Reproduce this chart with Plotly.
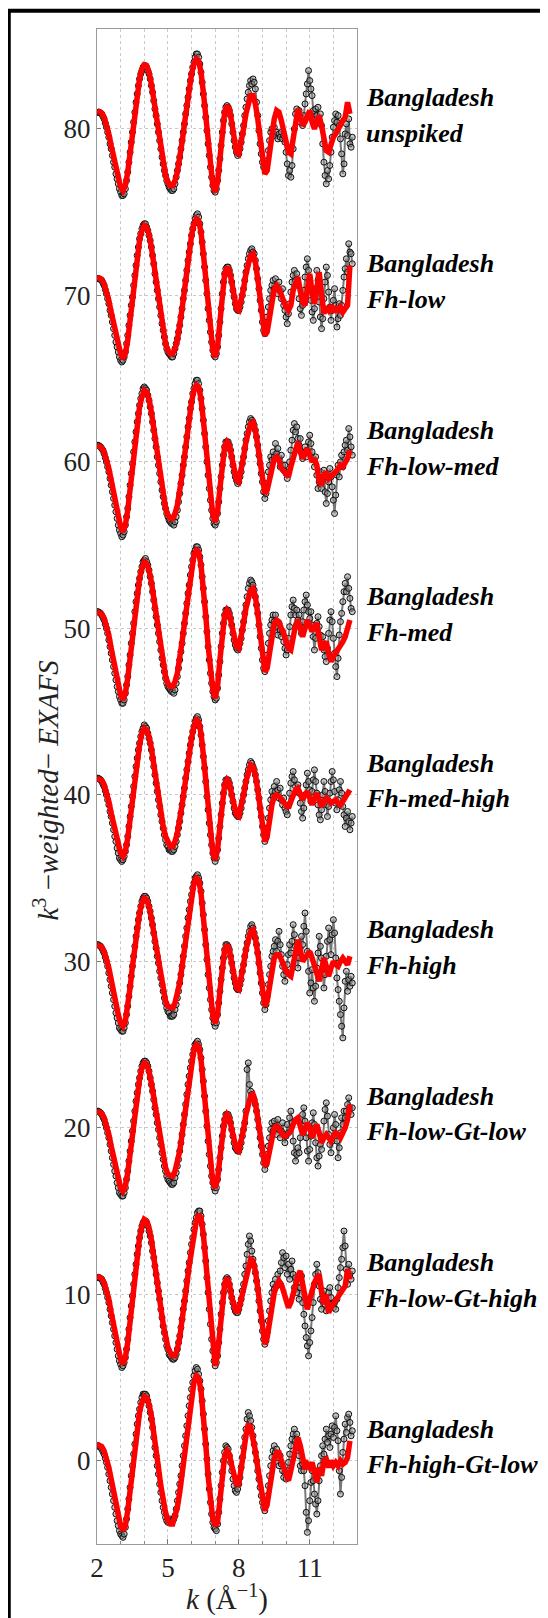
import plotly.graph_objects as go

# ---------------- data (values relative to each spectrum's vertical offset) ----------------
OFFSETS = [80, 70, 60, 50, 40, 30, 20, 10, 0]
LINE1 = "Bangladesh"
LINE2 = ["unspiked", "Fh-low", "Fh-low-med", "Fh-med", "Fh-med-high", "Fh-high",
         "Fh-low-Gt-low", "Fh-low-Gt-high", "Fh-high-Gt-low"]

K_START = 2.0
DATA_STEP = 0.05   # measured points
FIT_STEP = 0.1     # fit curve samples

X_TICKS = [2, 5, 8, 11]
X_MINOR = [3, 4, 6, 7, 9, 10, 12]
Y_TICKS = [0, 10, 20, 30, 40, 50, 60, 70, 80]

fit_unspiked = [1.1, 1.05, 0.95, 0.7, 0.3, -0.3, -1.0, -1.7, -2.4, -3.0, -3.5, -3.7,
                -3.4, -2.6, -1.4, -0.2, 1.0, 2.1, 3.0, 3.6, 3.85, 3.8,
                3.4, 2.7, 1.8, 0.8, -0.2, -1.2, -2.1, -2.8, -3.2, -3.4, -3.4,
                -3.1, -2.6, -1.8, -0.8, 0.3, 1.4, 2.4, 3.3, 3.9, 4.2, 4.1,
                3.4, 2.2, 0.7, -0.9, -2.3, -3.4, -3.8,
                -3.2, -1.8, -0.2, 1.0, 1.4,
                1.2, 0.4, -0.6, -1.4, -1.5,
                -0.9, 0.0, 0.9, 1.6, 2.0, 2.0,
                1.5, 0.6, -0.6, -1.8, -2.7,
                -2.5, -1.5, -0.3, 0.6, 1.1,
                1.0, 0.5, -0.2, -0.9, -1.4, -1.5, -0.6, 0.4, 1.2, 0.8,
                0.2, 0.4, 0.8, 1.1, 0.4, 0.0, 0.5, 0.8, 0.2, -0.6,
                -1.3, -1.4, -0.9, -0.5, -0.3, 0.0, 0.2, 0.5, 0.7, 1.6, 0.9]

fit_fh_low = [1.1, 1.05, 0.95, 0.7, 0.3, -0.3, -1.0, -1.7, -2.4, -3.0, -3.5, -3.8,
              -3.5, -2.7, -1.5, -0.2, 1.1, 2.3, 3.3, 3.9, 4.2, 4.1,
              3.7, 2.9, 1.9, 0.8, -0.2, -1.2, -2.1, -2.9, -3.3, -3.5, -3.5,
              -3.2, -2.7, -1.9, -0.8, 0.3, 1.5, 2.6, 3.6, 4.3, 4.6, 4.5,
              3.8, 2.5, 0.9, -0.8, -2.2, -3.3, -3.7,
              -3.1, -1.6, 0.1, 1.3, 1.7,
              1.5, 0.8, -0.1, -0.8, -0.9,
              -0.4, 0.4, 1.3, 2.0, 2.4, 2.5,
              2.0, 1.0, -0.3, -1.5, -2.4,
              -2.2, -1.3, -0.3, 0.4, 0.6,
              0.4, 0.0, -0.4, -0.7, -0.9, -0.6, 0.3, 0.8, 1.1, 0.3,
              -0.4, -0.6, 0.5, 1.3, 0.2, -0.5, 0.4, 1.4, 0.1, -1.1,
              -0.7, -0.9, -0.6, -1.0, -0.8, -0.9, -0.7, -1.0, -0.8, -0.6, 1.8]

fit_fh_low_med = [1.0, 0.95, 0.85, 0.6, 0.2, -0.4, -1.1, -1.9, -2.7, -3.4, -3.9, -4.2,
                  -3.8, -2.9, -1.6, -0.2, 1.1, 2.3, 3.3, 3.9, 4.3, 4.2,
                  3.8, 3.0, 2.0, 0.9, -0.2, -1.2, -2.1, -2.8, -3.2, -3.4, -3.4,
                  -3.1, -2.6, -1.8, -0.8, 0.3, 1.5, 2.6, 3.6, 4.3, 4.6, 4.5,
                  3.8, 2.5, 0.9, -0.8, -2.2, -3.2, -3.6,
                  -3.0, -1.6, -0.2, 0.9, 1.2,
                  1.0, 0.3, -0.6, -1.1, -1.2,
                  -0.6, 0.3, 1.2, 1.9, 2.3, 2.4,
                  1.9, 1.0, -0.1, -1.1, -1.9,
                  -1.7, -1.0, -0.2, 0.2, 0.3,
                  0.1, -0.4, -0.6, -0.8, -0.9, -0.3, 0.3, 0.8, 1.2, 0.6,
                  0.2, 0.5, 0.8, 0.4, 0.0, 0.2, -0.2, -1.2, -1.4, -0.8,
                  -0.6, -1.0, -0.9, -0.7, -0.6, -0.4, -0.2, -0.3, 0.0, 0.2, 0.7]

fit_fh_med = [1.0, 0.95, 0.85, 0.6, 0.2, -0.4, -1.2, -2.0, -2.8, -3.5, -4.0, -4.3,
              -3.9, -3.0, -1.7, -0.3, 1.0, 2.1, 3.0, 3.6, 4.0, 3.9,
              3.5, 2.8, 1.8, 0.8, -0.2, -1.2, -2.1, -2.9, -3.3, -3.5, -3.5,
              -3.2, -2.7, -1.9, -0.8, 0.3, 1.5, 2.6, 3.6, 4.4, 4.7, 4.6,
              3.8, 2.5, 0.8, -1.0, -2.6, -3.7, -4.2,
              -3.5, -1.9, -0.3, 0.8, 1.1,
              0.9, 0.2, -0.7, -1.1, -1.2,
              -0.6, 0.3, 1.2, 1.9, 2.3, 2.4,
              1.9, 0.9, -0.4, -1.7, -2.6,
              -2.4, -1.5, -0.4, 0.3, 0.5,
              0.4, 0.0, -0.3, -0.8, -1.2, -1.3, -0.4, 0.2, 0.5, 0.0,
              -0.5, 0.0, 0.5, 0.2, -0.2, 0.1, 0.3, -0.5, -1.3, -1.0,
              -0.8, -1.5, -2.0, -1.7, -1.5, -1.2, -1.0, -0.8, -0.5, 0.2, 0.5]

fit_fh_med_high = [1.0, 0.95, 0.85, 0.6, 0.2, -0.4, -1.1, -1.8, -2.5, -3.1, -3.5, -3.7,
                   -3.4, -2.6, -1.4, -0.2, 1.0, 2.1, 3.0, 3.7, 4.0, 3.9,
                   3.5, 2.8, 1.8, 0.8, -0.2, -1.1, -1.9, -2.5, -2.9, -3.1, -3.1,
                   -2.8, -2.3, -1.6, -0.6, 0.4, 1.5, 2.5, 3.4, 4.1, 4.5, 4.4,
                   3.7, 2.4, 0.8, -0.9, -2.4, -3.5, -3.9,
                   -3.3, -1.9, -0.5, 0.6, 0.9,
                   0.7, 0.0, -0.8, -1.2, -1.3,
                   -0.8, 0.0, 0.8, 1.4, 1.8, 1.7,
                   1.2, 0.3, -0.8, -1.9, -2.8,
                   -2.5, -1.5, -0.6, -0.1, 0.0,
                   -0.1, -0.3, -0.4, -0.6, -0.8, -0.4, 0.0, 0.3, 0.4, 0.1,
                   -0.3, 0.0, 0.2, -0.2, -0.6, -0.2, 0.1, -0.3, -0.7, -0.4,
                   -0.2, -0.3, -0.5, -0.4, -0.3, -0.5, -0.6, -0.4, -0.2, 0.1, 0.3]

fit_fh_high = [1.0, 0.95, 0.85, 0.6, 0.2, -0.4, -1.1, -1.9, -2.6, -3.2, -3.7, -3.9,
               -3.6, -2.8, -1.6, -0.3, 0.9, 2.0, 2.9, 3.5, 3.8, 3.7,
               3.3, 2.6, 1.7, 0.8, -0.1, -1.0, -1.8, -2.4, -2.7, -2.8, -2.8,
               -2.5, -2.0, -1.3, -0.3, 0.8, 2.0, 3.1, 4.0, 4.7, 5.0, 4.9,
               4.1, 2.7, 1.0, -0.8, -2.3, -3.3, -3.7,
               -3.2, -1.8, -0.4, 0.7, 1.0,
               0.7, -0.1, -1.0, -1.6, -1.7,
               -1.1, -0.2, 0.7, 1.4, 1.8, 1.9,
               1.4, 0.5, -0.7, -1.8, -2.7,
               -2.4, -1.4, -0.4, 0.2, 0.4,
               0.4, 0.1, -0.3, -0.6, -0.8, -0.9, -0.2, 0.6, 1.3, 0.7,
               0.0, 0.2, 0.4, 0.6, 0.2, -0.2, -0.7, -1.2, -0.5, 0.2,
               -0.3, -0.9, -0.4, 0.0, -0.2, -0.3, 0.0, 0.2, 0.0, -0.2, 0.3]

fit_fh_low_gt_low = [1.0, 0.95, 0.85, 0.6, 0.2, -0.4, -1.1, -1.8, -2.5, -3.1, -3.6, -3.8,
                     -3.5, -2.7, -1.5, -0.3, 0.9, 2.0, 2.9, 3.6, 3.9, 3.8,
                     3.4, 2.7, 1.8, 0.8, -0.1, -1.0, -1.8, -2.4, -2.8, -2.9, -2.9,
                     -2.6, -2.1, -1.4, -0.4, 0.7, 1.9, 3.0, 4.0, 4.7, 5.0, 4.9,
                     4.1, 2.7, 1.0, -0.8, -2.3, -3.3, -3.6,
                     -3.1, -1.8, -0.5, 0.5, 0.8,
                     0.6, -0.1, -0.9, -1.3, -1.4,
                     -0.9, -0.1, 0.8, 1.5, 1.9, 2.0,
                     1.5, 0.6, -0.5, -1.5, -2.3,
                     -2.1, -1.3, -0.5, 0.0, 0.1,
                     0.0, -0.3, -0.5, -0.5, -0.4, -0.2, 0.2, 0.5, 0.6, 0.1,
                     -0.4, -0.1, 0.3, 0.0, -0.6, -0.2, 0.2, -0.3, -0.9, -0.6,
                     -0.4, -0.6, -0.8, -0.5, -0.3, -0.4, -0.6, -0.3, 0.0, 0.5, 1.4]

fit_fh_low_gt_high = [1.1, 1.05, 0.95, 0.7, 0.3, -0.3, -1.1, -1.9, -2.7, -3.4, -3.9, -4.2,
                      -3.8, -2.9, -1.6, -0.2, 1.1, 2.4, 3.4, 4.1, 4.5, 4.4,
                      4.0, 3.3, 2.4, 1.4, 0.3, -0.8, -1.8, -2.6, -3.2, -3.5, -3.7,
                      -3.7, -3.3, -2.6, -1.7, -0.6, 0.6, 1.7, 2.8, 3.7, 4.4, 4.8,
                      4.6, 3.6, 2.0, 0.1, -1.8, -3.3, -4.3,
                      -3.6, -2.0, -0.5, 0.6, 1.0,
                      0.6, -0.2, -0.8, -1.1, -0.9,
                      -0.3, 0.5, 1.2, 1.8, 2.1, 2.0,
                      1.4, 0.4, -0.9, -2.1, -3.0,
                      -2.6, -1.6, -0.6, 0.1, 0.5,
                      0.8, 0.6, 0.1, -0.4, -0.8, -0.5, 0.1, 0.6, 1.1, 1.4,
                      0.6, -0.3, -0.9, -0.3, 0.3, 0.7, 1.0, 1.2, 0.2, -0.6,
                      0.0, -1.1, -0.8, -0.6, -0.4, -0.2, 0.0, 0.2, 0.5, 1.5, 0.9]

fit_fh_high_gt_low = [1.0, 0.95, 0.85, 0.6, 0.2, -0.4, -1.1, -1.9, -2.7, -3.4, -3.9, -4.2,
                      -3.9, -3.0, -1.8, -0.5, 0.8, 2.0, 2.9, 3.5, 3.85, 3.8,
                      3.4, 2.7, 1.8, 0.7, -0.4, -1.5, -2.4, -3.1, -3.6, -3.8, -3.8,
                      -3.4, -2.8, -1.9, -0.8, 0.5, 1.8, 3.0, 4.0, 4.7, 5.1, 5.0,
                      4.2, 2.8, 1.0, -0.9, -2.5, -3.5, -3.9,
                      -3.7, -2.4, -0.9, 0.3, 0.6,
                      0.4, -0.3, -1.0, -1.4, -1.4,
                      -0.6, 0.5, 1.5, 2.2, 2.0, 1.4,
                      0.6, -0.4, -1.4, -2.3, -3.0,
                      -2.6, -1.6, -0.6, 0.1, 0.5,
                      0.5, 0.0, -0.5, -0.9, -1.2, -0.6, 0.2, 0.9, 1.4, 0.9,
                      0.2, -0.5, -0.2, -0.4, -0.1, -0.8, -1.3, -0.4, -0.9, 0.0,
                      0.1, -0.4, 0.0, -0.3, -0.1, -0.3, 0.0, -0.2, -0.1, 0.2, 1.2]

data_unspiked = [1.0, 1.0, 1.0, 0.95, 0.9, 0.75, 0.6, 0.35, 0.1, -0.2,
                 -0.5, -0.9, -1.2, -1.6, -2.0, -2.3, -2.7, -3.0, -3.3, -3.6,
                 -3.8, -4.0, -4.0, -3.9, -3.6, -3.1, -2.6, -2.0, -1.4, -0.8,
                 -0.2, 0.4, 1.0, 1.6, 2.1, 2.6, 3.0, 3.3, 3.5, 3.7,
                 3.8, 3.8, 3.7, 3.5, 3.3, 3.0, 2.6, 2.2, 1.7, 1.2,
                 0.8, 0.3, -0.2, -0.7, -1.2, -1.7, -2.1, -2.5, -2.8, -3.1,
                 -3.3, -3.5, -3.6, -3.7, -3.7, -3.6, -3.3, -2.9, -2.5, -2.1,
                 -1.7, -1.2, -0.7, -0.2, 0.3, 0.9, 1.4, 1.9, 2.4, 2.9,
                 3.3, 3.7, 4.0, 4.3, 4.5, 4.5, 4.3, 3.9, 3.4, 2.8,
                 2.1, 1.4, 0.7, -0.1, -0.9, -1.6, -2.3, -2.9, -3.4, -3.7,
                 -3.8, -3.6, -3.1, -2.5, -1.8, -1.0, -0.2, 0.5, 1.0, 1.3,
                 1.4, 1.3, 1.1, 0.8, 0.3, -0.2, -0.7, -1.1, -1.4, -1.6,
                 -1.5, -1.2, -0.8, -0.3, 0.2, 0.8, 1.3, 1.8, 2.2, 2.6,
                 2.9, 2.7, 3.0, 2.8, 2.4, 1.6, 0.8, -0.1, -0.9, -1.5,
                 -2.0, -2.3, -2.2, -2.3, -1.9, -1.3, -0.7, -0.2, 0.0, -0.3,
                 0.1, -0.4, -0.2, -0.6, -0.3, -0.5, -0.2, -0.6, -0.4, -0.8,
                 -1.4, -2.1, -2.8, -2.5, -2.9, -2.2, -1.2, 0.0, 0.9, 1.2,
                 0.7, 1.1, 0.4, 0.7, 0.2, 0.8, 1.5, 2.1, 2.7, 3.5,
                 2.9, 2.4, 2.0, 1.1, 0.6, 1.2, 0.8, 1.3, 0.5, 0.9,
                 0.2, -0.9, -2.0, -2.8, -3.3, -2.5, -3.0, -2.2, -1.4, -0.5,
                 0.1, 0.5, 0.9, 0.4, 0.8, 0.2, -0.6, -1.5, -2.7, -2.1,
                 -0.3, 0.3, -0.4, 0.6, -0.9, -1.1, -0.5]

data_fh_low = [1.0, 1.0, 1.0, 0.95, 0.9, 0.75, 0.6, 0.35, 0.1, -0.2,
               -0.5, -0.9, -1.2, -1.6, -2.0, -2.4, -2.8, -3.1, -3.4, -3.7,
               -3.9, -4.0, -3.9, -3.7, -3.4, -2.9, -2.4, -1.8, -1.2, -0.6,
               -0.1, 0.6, 1.2, 1.8, 2.4, 2.9, 3.4, 3.7, 4.0, 4.2,
               4.3, 4.3, 4.1, 3.9, 3.6, 3.3, 2.9, 2.4, 1.9, 1.3,
               0.8, 0.3, -0.2, -0.7, -1.2, -1.7, -2.1, -2.5, -2.9, -3.2,
               -3.4, -3.5, -3.6, -3.7, -3.7, -3.5, -3.2, -2.9, -2.6, -2.2,
               -1.8, -1.3, -0.8, -0.2, 0.3, 0.9, 1.5, 2.1, 2.6, 3.1,
               3.6, 4.0, 4.3, 4.6, 4.8, 4.9, 4.7, 4.3, 3.8, 3.2,
               2.5, 1.7, 0.9, 0.1, -0.8, -1.5, -2.2, -2.8, -3.3, -3.6,
               -3.7, -3.5, -3.1, -2.4, -1.6, -0.8, 0.1, 0.8, 1.3, 1.6,
               1.7, 1.7, 1.5, 1.2, 0.8, 0.3, -0.1, -0.5, -0.8, -0.9,
               -0.9, -0.7, -0.4, 0.0, 0.4, 0.9, 1.4, 1.8, 2.2, 2.5,
               2.7, 2.8, 2.6, 2.5, 2.1, 1.6, 1.0, 0.4, -0.3, -0.9,
               -1.6, -2.1, -2.3, -2.0, -1.3, -0.7, -0.2, 0.3, 0.6, 0.9,
               0.4, 1.0, 0.5, 0.1, 0.8, 0.3, -0.2, 0.4, -0.6, -0.9,
               -1.3, -1.7, -1.1, -0.5, 0.2, 0.8, 1.2, 1.5, 0.9, 1.3,
               0.6, -0.2, -0.8, -1.2, -0.6, 0.3, 1.1, 1.7, 2.2, 1.5,
               0.9, -0.3, -1.0, -1.5, -0.8, 0.4, 1.5, 0.9, -0.4, -1.3,
               -2.0, -1.4, -0.2, 0.8, 1.7, 1.2, 0.2, -0.7, -1.5, -0.9,
               -0.3, 0.4, -0.6, -1.9, -1.4, -0.5, -1.2, -0.6, 0.3, 1.1,
               1.6, 2.2, 1.4, 3.1, 2.6, 2.5, 1.9]

data_fh_low_med = [1.0, 1.0, 0.95, 0.9, 0.8, 0.7, 0.5, 0.25, 0.0, -0.3,
                   -0.6, -1.0, -1.4, -1.8, -2.2, -2.6, -3.0, -3.4, -3.8, -4.1,
                   -4.3, -4.5, -4.4, -4.2, -3.8, -3.3, -2.8, -2.1, -1.4, -0.7,
                   -0.1, 0.6, 1.2, 1.8, 2.4, 2.9, 3.4, 3.8, 4.1, 4.4,
                   4.5, 4.4, 4.3, 4.0, 3.7, 3.3, 2.9, 2.4, 1.9, 1.4,
                   0.9, 0.3, -0.2, -0.7, -1.2, -1.7, -2.1, -2.5, -2.8, -3.1,
                   -3.3, -3.5, -3.6, -3.7, -3.7, -3.8, -3.6, -3.3, -2.9, -2.4,
                   -1.9, -1.3, -0.8, -0.2, 0.3, 0.9, 1.5, 2.1, 2.6, 3.2,
                   3.6, 4.1, 4.4, 4.7, 4.9, 4.9, 4.7, 4.3, 3.8, 3.2,
                   2.5, 1.7, 0.9, 0.0, -0.8, -1.6, -2.3, -2.9, -3.4, -3.7,
                   -3.8, -3.6, -3.1, -2.4, -1.6, -0.9, -0.2, 0.4, 0.9, 1.2,
                   1.2, 1.2, 1.0, 0.7, 0.3, -0.2, -0.6, -0.9, -1.1, -1.3,
                   -1.2, -0.9, -0.6, -0.1, 0.3, 0.8, 1.3, 1.7, 2.1, 2.4,
                   2.6, 2.5, 2.4, 2.2, 1.9, 1.5, 1.0, 0.4, -0.1, -0.7,
                   -1.2, -1.8, -2.2, -1.9, -1.3, -0.6, -0.2, 0.3, 0.1, 0.6,
                   0.3, 1.1, 0.5, 0.8, 0.2, -0.3, 0.4, -0.2, -0.5, -0.2,
                   -0.7, -1.0, -0.6, 0.0, 0.7, 1.3, 1.9, 2.3, 1.8, 2.1,
                   1.4, 1.0, 1.4, 0.6, 0.2, 0.5, 0.9, 0.3, 0.7, 1.2,
                   1.6, 1.1, 0.6, 0.2, -0.3, 0.3, -0.8, -1.6, -1.2, -0.6,
                   -1.6, -1.0, -0.5, -1.8, -2.5, -1.9, -1.2, -0.4, -0.9, -1.5,
                   -2.3, -3.1, -2.0, -0.8, -0.2, -0.9, 0.0, 0.4, -0.3, 0.6,
                   1.0, 1.3, 0.7, 2.0, 1.5, 0.9, 0.4]

data_fh_med = [1.0, 1.0, 0.95, 0.9, 0.8, 0.65, 0.5, 0.25, 0.0, -0.3,
               -0.7, -1.1, -1.5, -1.9, -2.3, -2.7, -3.1, -3.5, -3.8, -4.1,
               -4.3, -4.5, -4.5, -4.3, -3.9, -3.4, -2.9, -2.2, -1.6, -0.9,
               -0.3, 0.3, 1.0, 1.6, 2.1, 2.6, 3.0, 3.4, 3.7, 4.0,
               4.1, 4.2, 4.0, 3.8, 3.5, 3.1, 2.7, 2.2, 1.7, 1.2,
               0.7, 0.2, -0.3, -0.8, -1.3, -1.8, -2.2, -2.6, -3.0, -3.3,
               -3.5, -3.6, -3.7, -3.8, -3.8, -3.9, -3.7, -3.3, -2.9, -2.4,
               -1.9, -1.4, -0.9, -0.3, 0.3, 0.9, 1.5, 2.1, 2.6, 3.2,
               3.7, 4.1, 4.5, 4.7, 4.9, 4.9, 4.7, 4.3, 3.8, 3.1,
               2.4, 1.6, 0.7, -0.2, -1.1, -1.9, -2.7, -3.3, -3.8, -4.1,
               -4.3, -4.2, -3.6, -2.8, -2.0, -1.1, -0.3, 0.3, 0.8, 1.1,
               1.1, 1.1, 0.9, 0.6, 0.2, -0.3, -0.7, -1.0, -1.2, -1.3,
               -1.2, -0.9, -0.6, -0.1, 0.4, 0.9, 1.4, 1.9, 2.4, 2.7,
               2.9, 2.8, 2.6, 2.3, 1.9, 1.4, 0.9, 0.2, -0.5, -1.2,
               -1.9, -2.4, -2.6, -2.3, -1.6, -0.9, -0.3, 0.2, 0.5, 0.8,
               0.4, 0.8, 0.1, -0.4, 0.3, -0.1, -0.5, -0.2, -0.8, -1.2,
               -1.6, -1.3, -0.6, 0.1, 0.8, 1.3, 1.7, 1.2, 0.8, 1.1,
               0.5, 0.8, 0.2, -0.3, 0.4, 1.1, 1.6, 2.0, 1.4, 1.0,
               0.6, 1.0, 0.2, -0.5, -1.3, -0.6, 0.3, 0.7, 0.1, -0.4,
               -1.0, -0.5, -1.3, -1.7, -2.0, -1.2, -0.3, 0.5, 1.0, 0.4,
               -0.6, -1.5, -2.3, -2.9, -1.8, -0.4, 0.4, 0.9, 1.6, 2.2,
               2.7, 2.2, 3.1, 2.4, 1.8, 1.2, 1.0]

data_fh_med_high = [1.0, 1.0, 0.95, 0.9, 0.8, 0.65, 0.5, 0.25, 0.0, -0.3,
                    -0.6, -1.0, -1.3, -1.7, -2.1, -2.5, -2.8, -3.2, -3.5, -3.8,
                    -3.9, -4.0, -3.9, -3.7, -3.4, -3.0, -2.5, -1.9, -1.3, -0.7,
                    -0.1, 0.5, 1.1, 1.7, 2.2, 2.7, 3.1, 3.5, 3.8, 4.0,
                    4.2, 4.1, 4.0, 3.7, 3.4, 3.1, 2.7, 2.2, 1.7, 1.2,
                    0.7, 0.2, -0.3, -0.7, -1.2, -1.6, -2.0, -2.4, -2.7, -3.0,
                    -3.1, -3.3, -3.3, -3.4, -3.4, -3.3, -3.1, -2.8, -2.4, -2.0,
                    -1.6, -1.1, -0.6, -0.1, 0.4, 1.0, 1.5, 2.0, 2.5, 3.0,
                    3.4, 3.8, 4.1, 4.4, 4.6, 4.7, 4.5, 4.1, 3.6, 3.0,
                    2.3, 1.6, 0.8, -0.1, -0.9, -1.7, -2.4, -3.0, -3.5, -3.8,
                    -4.0, -3.8, -3.3, -2.6, -1.9, -1.2, -0.5, 0.1, 0.6, 0.9,
                    0.9, 0.9, 0.7, 0.4, 0.0, -0.4, -0.8, -1.1, -1.2, -1.3,
                    -1.3, -1.1, -0.8, -0.4, 0.0, 0.4, 0.8, 1.2, 1.5, 1.8,
                    2.0, 1.9, 1.7, 1.5, 1.2, 0.8, 0.3, -0.2, -0.8, -1.3,
                    -1.9, -2.4, -2.8, -2.6, -2.0, -1.4, -0.8, -0.3, 0.2, -0.1,
                    0.5, 0.2, 0.8, 0.3, -0.2, 0.4, -0.3, -0.6, -0.2, -0.8,
                    -1.0, -1.2, -0.6, 0.1, 0.7, 1.1, 1.4, 0.9, 0.5, 0.2,
                    0.6, 0.1, -0.5, -1.0, -1.4, -0.8, 0.0, 0.6, 1.3, 0.8,
                    0.3, -0.4, 0.2, 0.9, 1.5, 0.8, 0.1, -0.6, -1.2, -1.5,
                    -0.9, 0.0, 0.8, 0.2, -0.6, -1.3, -0.7, 0.1, 0.8, 1.4,
                    0.9, 0.2, -0.5, -0.9, -0.3, 0.3, 0.8, 0.1, -0.7, -1.2,
                    -1.9, -1.4, -1.0, -1.6, -2.1, -1.7, -1.3]

data_fh_high = [1.0, 1.0, 0.95, 0.9, 0.8, 0.65, 0.5, 0.25, 0.0, -0.3,
                -0.7, -1.1, -1.5, -1.9, -2.3, -2.7, -3.1, -3.4, -3.7, -4.0,
                -4.1, -4.2, -4.2, -4.0, -3.7, -3.2, -2.7, -2.1, -1.5, -0.9,
                -0.3, 0.3, 0.9, 1.5, 2.0, 2.5, 2.9, 3.3, 3.6, 3.8,
                3.9, 3.9, 3.8, 3.6, 3.3, 3.0, 2.6, 2.2, 1.7, 1.2,
                0.8, 0.3, -0.1, -0.6, -1.0, -1.4, -1.8, -2.2, -2.5, -2.8,
                -3.0, -3.1, -3.3, -3.3, -3.3, -3.2, -2.9, -2.6, -2.2, -1.8,
                -1.3, -0.8, -0.3, 0.3, 0.9, 1.5, 2.0, 2.6, 3.1, 3.6,
                4.0, 4.4, 4.7, 5.0, 5.1, 5.2, 5.0, 4.7, 4.2, 3.5,
                2.8, 1.9, 1.0, 0.1, -0.8, -1.6, -2.3, -2.9, -3.4, -3.7,
                -3.9, -3.7, -3.2, -2.5, -1.8, -1.1, -0.4, 0.2, 0.7, 1.0,
                1.0, 0.9, 0.7, 0.3, -0.1, -0.6, -1.0, -1.3, -1.6, -1.7,
                -1.7, -1.4, -1.1, -0.6, -0.2, 0.3, 0.7, 1.1, 1.5, 1.8,
                2.1, 2.2, 2.0, 1.7, 1.4, 1.0, 0.5, -0.1, -0.7, -1.3,
                -1.9, -2.5, -2.9, -2.6, -2.1, -1.4, -0.8, -0.3, 0.3, 0.6,
                0.9, 1.3, 0.6, 1.2, 1.8, 1.0, 0.4, -0.3, -0.8, -1.2,
                -0.6, -0.2, 0.4, 1.0, 0.5, 1.2, 2.2, 1.6, 0.9, 0.3,
                -0.4, 0.2, 0.8, 1.5, 1.0, 2.1, 2.9, 1.8, 0.6, -0.6,
                -1.9, -1.3, -0.5, -1.6, -2.4, -1.5, -0.4, 0.5, 1.5, 0.9,
                0.2, -0.7, -1.6, -0.8, 0.3, 1.2, 2.0, 1.3, 0.4, 1.6,
                2.5, 1.7, 0.2, -1.0, -1.7, -2.4, -3.2, -3.9, -4.6, -2.8,
                -1.2, -0.6, -1.8, -1.1, -1.5, -0.9, -1.3]

data_fh_low_gt_low = [1.0, 1.0, 0.95, 0.9, 0.8, 0.65, 0.5, 0.25, 0.0, -0.3,
                      -0.6, -1.0, -1.4, -1.8, -2.2, -2.6, -2.9, -3.3, -3.6, -3.9,
                      -4.0, -4.1, -4.1, -3.9, -3.6, -3.1, -2.6, -2.0, -1.4, -0.8,
                      -0.2, 0.4, 1.0, 1.6, 2.1, 2.6, 3.0, 3.4, 3.7, 3.9,
                      4.0, 4.0, 3.9, 3.7, 3.4, 3.0, 2.6, 2.2, 1.7, 1.2,
                      0.8, 0.3, -0.1, -0.6, -1.0, -1.5, -1.9, -2.3, -2.6, -2.9,
                      -3.1, -3.2, -3.3, -3.4, -3.4, -3.3, -3.0, -2.7, -2.3, -1.9,
                      -1.4, -0.9, -0.4, 0.2, 0.8, 1.4, 2.0, 2.6, 3.1, 3.6,
                      4.0, 4.4, 4.7, 5.0, 5.1, 5.2, 5.0, 4.7, 4.2, 3.5,
                      2.8, 1.9, 1.0, 0.1, -0.8, -1.6, -2.3, -2.9, -3.3, -3.6,
                      -3.8, -3.6, -3.1, -2.5, -1.8, -1.2, -0.5, 0.1, 0.5, 0.8,
                      0.8, 0.8, 0.6, 0.3, -0.1, -0.5, -0.9, -1.2, -1.3, -1.4,
                      -1.4, -1.2, -0.9, -0.5, -0.1, 0.3, 1.0, 3.5, 3.9, 2.6,
                      2.2, 2.0, 1.9, 1.7, 1.4, 1.0, 0.5, 0.0, -0.6, -1.1,
                      -1.6, -2.1, -2.5, -2.2, -1.6, -1.1, -0.6, -0.1, 0.3, -0.2,
                      0.4, 0.1, -0.4, 0.5, -0.1, -0.6, -0.2, 0.3, -0.4, -0.9,
                      -0.5, 0.2, -0.3, 0.6, 1.0, 0.3, -0.8, -1.5, -2.0, -1.6,
                      -1.2, -1.5, -0.6, 0.2, 0.8, 1.2, 0.4, -0.6, -1.4, -2.0,
                      -1.3, -0.5, 0.3, 0.9, 0.2, -0.9, -1.8, -2.3, -1.7, -1.0,
                      -1.3, -0.6, 0.4, 1.1, 1.5, 0.7, -0.4, -1.0, -1.5, -0.8,
                      0.0, 0.8, 0.2, -0.8, -1.8, -1.2, -0.3, 0.6, 0.2, 1.0,
                      0.6, 1.0, 1.4, 1.8, 1.2, 0.8, 1.2]

data_fh_low_gt_high = [1.0, 1.0, 1.0, 0.95, 0.9, 0.75, 0.6, 0.35, 0.1, -0.2,
                       -0.5, -0.9, -1.3, -1.7, -2.1, -2.5, -2.9, -3.3, -3.7, -4.0,
                       -4.2, -4.4, -4.3, -4.1, -3.8, -3.3, -2.7, -2.1, -1.4, -0.7,
                       -0.1, 0.6, 1.2, 1.8, 2.4, 2.9, 3.4, 3.8, 4.1, 4.3,
                       4.4, 4.4, 4.3, 4.1, 3.8, 3.5, 3.1, 2.6, 2.2, 1.7,
                       1.2, 0.7, 0.2, -0.3, -0.9, -1.4, -1.9, -2.3, -2.7, -3.1,
                       -3.3, -3.6, -3.7, -3.8, -3.9, -3.9, -3.8, -3.6, -3.3, -2.9,
                       -2.5, -2.0, -1.5, -0.9, -0.4, 0.2, 0.8, 1.4, 1.9, 2.5,
                       3.0, 3.4, 3.9, 4.3, 4.6, 4.9, 5.0, 5.0, 4.7, 4.2,
                       3.6, 2.8, 2.0, 1.0, 0.1, -0.9, -1.8, -2.7, -3.4, -4.0,
                       -4.3, -4.1, -3.7, -2.9, -2.1, -1.2, -0.5, 0.1, 0.6, 0.9,
                       1.0, 0.9, 0.6, 0.2, -0.2, -0.5, -0.8, -1.0, -1.1, -1.1,
                       -0.9, -0.6, -0.3, 0.2, 0.6, 1.2, 1.7, 2.4, 3.0, 3.5,
                       3.2, 2.6, 2.1, 1.7, 1.3, 0.8, 0.3, -0.4, -1.0, -1.6,
                       -2.2, -2.7, -3.0, -2.8, -2.3, -1.6, -1.0, -0.4, 0.1, 0.6,
                       0.3, 0.9, 0.5, 1.2, 0.6, 1.4, 1.9, 2.5, 2.2, 1.6,
                       2.3, 1.2, 1.8, 0.9, 1.5, 2.0, 1.2, 0.4, 1.0, 0.1,
                       0.7, -0.3, 0.4, 1.1, -0.5, -1.2, -1.9, -2.6, -3.1, -3.7,
                       -2.9, -2.2, -1.4, -0.5, 0.6, 1.2, 1.8, 1.3, 0.5, -0.3,
                       -0.9, -0.4, 0.2, -0.6, -1.0, -0.5, 0.1, 0.4, -0.2, -0.6,
                       -0.8, -0.5, -0.9, -0.3, 0.4, 1.0, 1.6, 2.1, 2.8, 3.8,
                       2.9, 1.5, 0.6, 1.8, 1.2, 0.9, 1.4]

data_fh_high_gt_low = [0.9, 0.9, 0.85, 0.8, 0.7, 0.55, 0.4, 0.15, -0.1, -0.4,
                       -0.8, -1.2, -1.6, -2.0, -2.4, -2.8, -3.2, -3.6, -3.9, -4.2,
                       -4.4, -4.5, -4.6, -4.4, -4.0, -3.5, -2.9, -2.3, -1.6, -0.9,
                       -0.3, 0.4, 1.0, 1.6, 2.2, 2.7, 3.1, 3.5, 3.8, 4.0,
                       4.0, 4.0, 3.9, 3.6, 3.3, 2.9, 2.5, 2.0, 1.4, 0.8,
                       0.3, -0.3, -0.8, -1.4, -1.9, -2.4, -2.8, -3.1, -3.4, -3.6,
                       -3.7, -3.6, -3.5, -3.6, -3.6, -3.5, -3.3, -2.9, -2.4, -1.9,
                       -1.4, -0.9, -0.3, 0.3, 0.9, 1.5, 2.1, 2.7, 3.3, 3.8,
                       4.3, 4.7, 5.1, 5.4, 5.6, 5.5, 5.2, 4.8, 4.3, 3.6,
                       2.8, 1.9, 1.0, 0.1, -0.8, -1.7, -2.5, -3.2, -3.7, -4.0,
                       -4.1, -4.2, -3.8, -3.1, -2.3, -1.5, -0.7, 0.0, 0.5, 0.9,
                       0.8, 0.7, 0.3, -0.1, -0.6, -1.1, -1.5, -1.8, -1.9, -1.7,
                       -1.4, -1.0, -0.4, 0.2, 0.8, 1.4, 1.9, 2.5, 2.9, 2.7,
                       2.4, 2.0, 1.5, 1.0, 0.5, 0.0, -0.6, -1.1, -1.6, -2.1,
                       -2.5, -2.8, -3.0, -2.7, -2.1, -1.5, -0.9, -0.3, 0.2, 0.6,
                       0.9, 0.5, 0.7, 0.2, -0.3, 0.3, -0.2, -0.6, -1.0, -0.7,
                       -1.1, -0.6, -0.1, 0.4, 0.9, 1.3, 1.6, 1.9, 1.2, 1.6,
                       0.8, 0.3, -0.3, -0.6, -0.2, -0.6, -1.5, -3.1, -4.3, -3.6,
                       -2.4, -1.3, -0.6, -1.2, -2.0, -2.6, -3.2, -2.4, -1.2, -0.3,
                       0.3, 0.9, 0.4, 1.3, 1.9, 1.1, 1.5, 0.8, 1.6, 2.1,
                       1.4, 2.0, 2.7, 1.8, 1.2, -0.6, -2.0, -1.0, 0.5, 1.3,
                       2.2, 1.7, 2.6, 2.8, 2.3, 1.5, 1.8]

FITS = [fit_unspiked, fit_fh_low, fit_fh_low_med, fit_fh_med, fit_fh_med_high,
        fit_fh_high, fit_fh_low_gt_low, fit_fh_low_gt_high, fit_fh_high_gt_low]
DATAS = [data_unspiked, data_fh_low, data_fh_low_med, data_fh_med, data_fh_med_high,
         data_fh_high, data_fh_low_gt_low, data_fh_low_gt_high, data_fh_high_gt_low]

# ---------------- figure ----------------
# The page body keeps the browser's default 8 px margin, so the figure is drawn 8 px
# smaller and every target position below is given in page pixels.
SERIF = "Liberation Serif, Times New Roman, serif"
PAGE_W, PAGE_H = 548, 1618
BODY = 8
W, H = PAGE_W - BODY, PAGE_H - BODY
PLOT_X0, PLOT_X1 = 97.3, 357.5      # page px
PLOT_Y0, PLOT_Y1 = 29.3, 1544.0     # page px
L = PLOT_X0 - BODY
T = PLOT_Y0 - BODY
R = W - (PLOT_X1 - BODY)
B = H - (PLOT_Y1 - BODY)
PW = PLOT_X1 - PLOT_X0
PH = PLOT_Y1 - PLOT_Y0
Y_RANGE = [-5.0, 86.0]


def px_to_paper_x(px):
    return (px - PLOT_X0) / PW


def px_to_paper_y(py):
    return (PLOT_Y1 - py) / PH


fig = go.Figure()

for off, vals in zip(OFFSETS, DATAS):
    ks = [round(K_START + DATA_STEP * i, 2) for i in range(len(vals))]
    fig.add_trace(go.Scatter(
        x=ks, y=[v + off for v in vals], mode="lines+markers",
        line=dict(color="rgba(105,105,105,0.9)", width=2),
        marker=dict(symbol="circle", size=6, color="rgba(150,150,150,0.55)",
                    line=dict(color="#111111", width=1)),
        showlegend=False, hoverinfo="skip"))

for off, vals in zip(OFFSETS, FITS):
    ks = [round(K_START + FIT_STEP * i, 2) for i in range(len(vals))]
    fig.add_trace(go.Scatter(
        x=ks, y=[v + off for v in vals], mode="lines",
        line=dict(color="#ff0000", width=5.5),
        showlegend=False, hoverinfo="skip"))

# spectrum labels at right
for off, name in zip(OFFSETS, LINE2):
    for dy, txt in ((1.9, LINE1), (-0.25, name)):
        fig.add_annotation(
            x=px_to_paper_x(365), xref="paper", xanchor="left",
            y=off + dy, yref="y", yanchor="middle",
            text="<b><i>%s</i></b>" % txt, showarrow=False,
            font=dict(family=SERIF, size=26, color="black"))

# axis titles
fig.add_annotation(
    x=0.5, xref="paper", y=px_to_paper_y(1597), yref="paper",
    xanchor="center", yanchor="middle", showarrow=False,
    text="<i>k</i> (Å<sup>−1</sup>)",
    font=dict(family=SERIF, size=29, color="#222"))
fig.add_annotation(
    x=px_to_paper_x(46), xref="paper", y=px_to_paper_y(790), yref="paper",
    xanchor="center", yanchor="middle", showarrow=False, textangle=-90,
    text="<i>k</i><sup>3</sup> −<i>weighted</i>− <i>EXAFS</i>",
    font=dict(family=SERIF, size=29, color="#222"))

# outer black frame
fig.add_shape(type="rect", xref="paper", yref="paper",
              x0=px_to_paper_x(9), x1=px_to_paper_x(PAGE_W + 30),
              y0=px_to_paper_y(PAGE_H + 30), y1=px_to_paper_y(11),
              line=dict(color="black", width=4), fillcolor="rgba(0,0,0,0)")

fig.update_xaxes(
    range=[2, 13], tickmode="array", tickvals=X_TICKS,
    ticktext=[str(v) for v in X_TICKS],
    ticks="inside", ticklen=5, tickcolor="#777",
    showgrid=True, gridcolor="#c8c8c8", griddash="dot", gridwidth=1,
    minor=dict(tickmode="array", tickvals=X_MINOR, ticks="inside", ticklen=3,
               tickcolor="#888", showgrid=True, gridcolor="#c8c8c8",
               griddash="dot", gridwidth=1),
    showline=True, linecolor="#9a9a9a", linewidth=1, mirror=True,
    zeroline=False, automargin=False,
    tickfont=dict(family=SERIF, size=27, color="#222"))
fig.update_yaxes(
    range=Y_RANGE, tickmode="array", tickvals=Y_TICKS,
    ticktext=[str(v) for v in Y_TICKS],
    ticks="inside", ticklen=4, tickcolor="#777",
    showgrid=True, gridcolor="#c8c8c8", griddash="dot", gridwidth=1,
    showline=True, linecolor="#9a9a9a", linewidth=1, mirror=True,
    zeroline=False, automargin=False,
    tickfont=dict(family=SERIF, size=27, color="#222"))

fig.update_layout(
    width=W, height=H, margin=dict(l=L, r=R, t=T, b=B, pad=0),
    paper_bgcolor="white", plot_bgcolor="white", showlegend=False)

fig.write_html("out.html")
